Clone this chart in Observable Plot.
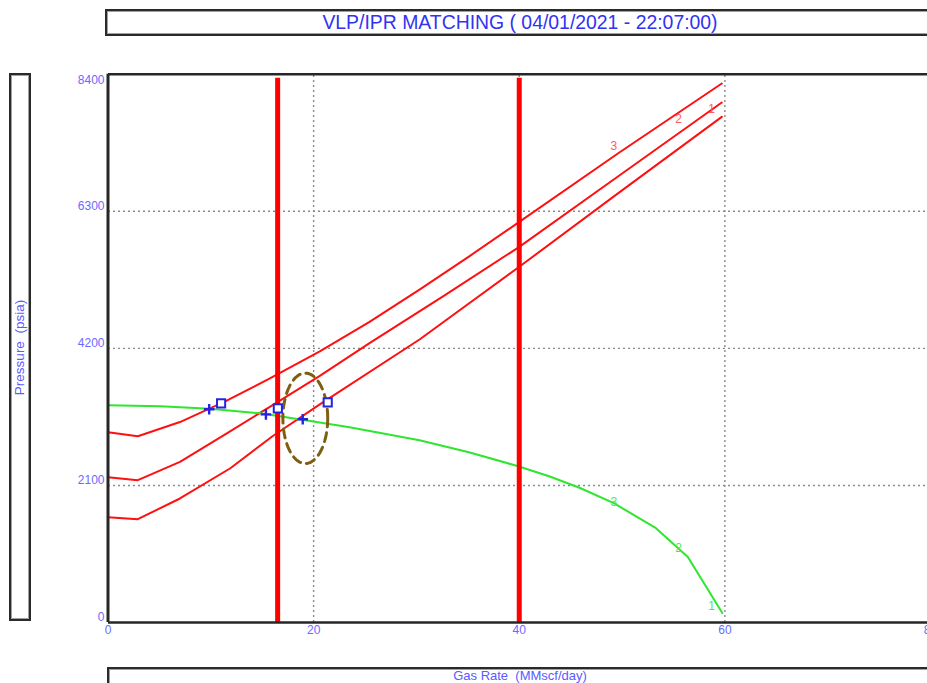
<!DOCTYPE html>
<html>
<head>
<meta charset="utf-8">
<script src="https://cdn.jsdelivr.net/npm/d3@7"></script>
<script src="https://cdn.jsdelivr.net/npm/@observablehq/plot@0.6"></script>
<style>
  body { margin: 0; background: #fff; }
  #chart {
    position: relative; width: 927px; height: 683px; overflow: hidden; background: #fff;
    font-family: "Liberation Sans", Arial, sans-serif;
  }
  #chart svg { position: absolute; left: 0; top: 0; }
  .box {
    position: absolute; box-sizing: border-box; background: #fff;
    border: 2px solid #2a2a2a; box-shadow: inset 0 0 0 1px #a0a0a0;
    display: flex; align-items: center; justify-content: center;
  }
  #title { left: 105px; top: 9px; width: 830px; height: 27px; color: #3232f2; font-size: 19.4px; }
  #ytitle { left: 9px; top: 73px; width: 22px; height: 548px; }
  #ytitle span { transform: rotate(-90deg); white-space: nowrap; color: #5a5aff; font-size: 13.5px; }
  #xtitle { left: 107px; top: 667px; width: 826px; height: 30px; align-items: flex-start; padding-top: 0; color: #5a5aff; font-size: 13px; line-height: 14px; }
</style>
</head>
<body>
<div id="chart">
  <div class="box" id="title">VLP/IPR MATCHING ( 04/01/2021 - 22:07:00)</div>
  <div class="box" id="ytitle"><span>Pressure&nbsp; (psia)</span></div>
  <div class="box" id="xtitle">Gas Rate&nbsp; (MMscf/day)</div>
</div>
<script>
// Axis ticks and grid positions
const xTicks = [0, 20, 40, 60, 80];
const yTicks = [0, 2100, 4200, 6300];
const yTopTick = [8400];
const xGrid = [20, 40, 60];
const yGrid = [2100, 4200, 6300];

// VLP curves (gas rate MMscf/day, pressure psia)
const vlp3Rate = [0, 2.9, 7.0, 11.4, 15.7, 20.6, 25.4, 30.3, 35.1, 39.9, 49.7, 59.7];
const vlp3Pres = [2914, 2853, 3071, 3388, 3735, 4153, 4601, 5101, 5606, 6126, 7197, 8257];
const vlp2Rate = [0, 2.9, 7.0, 11.4, 15.7, 20.6, 25.4, 32.7, 39.9, 49.7, 59.7];
const vlp2Pres = [2226, 2180, 2460, 2883, 3301, 3778, 4275, 5009, 5744, 6845, 7966];
const vlp1Rate = [0, 2.9, 7.0, 11.9, 16.0, 20.6, 30.3, 39.9, 49.7, 59.7];
const vlp1Pres = [1614, 1583, 1900, 2363, 2853, 3342, 4336, 5438, 6585, 7747];

// IPR curve
const iprRate = [0, 5.1, 9.9, 14.8, 18.9, 23.5, 30.3, 35.1, 39.9, 42.9, 45.8, 49.2, 53.3, 56.4, 59.75];
const iprPres = [3327, 3312, 3273, 3205, 3105, 2990, 2791, 2608, 2394, 2241, 2068, 1828, 1445, 1002, 145];

// VLP/IPR intersections and test points
const crossRate = [9.84, 15.36, 18.94];
const crossPres = [3266, 3189, 3113];
const testRate = [11.0, 16.52, 21.37];
const testPres = [3357, 3281, 3373];

// Rate limits
const limitRate = [16.5, 40];

// Curve labels
const curveNames = ["1", "2", "3"];
const vlpLabelRate = [58.7, 55.5, 49.2];
const vlpLabelPres = [7870, 7717, 7304];
const iprLabelRate = [58.7, 55.5, 49.2];
const iprLabelPres = [252, 1140, 1843];

// Highlight ellipse around the matched point
const ringCenter = {rate: 19.19, pres: 3128};
const ringRadius = {rate: 2.18, pres: 693};

const series = (xs, ys) => xs.map((x, i) => ({x, y: ys[i]}));
const ring = d3.range(0, 73).map(i => {
  const a = (i / 72) * 2 * Math.PI;
  return {x: ringCenter.rate + ringRadius.rate * Math.cos(a), y: ringCenter.pres + ringRadius.pres * Math.sin(a)};
});

// stroked plus sign
const plusSymbol = {
  draw(ctx, size) {
    const r = Math.sqrt(size / Math.PI);
    ctx.moveTo(-r, 0); ctx.lineTo(r, 0);
    ctx.moveTo(0, -r); ctx.lineTo(0, r);
  }
};

const tickColor = "#6a6aff";
const gridStyle = {stroke: "#8a8a8a", strokeWidth: 1.4, strokeDasharray: "2,3"};
const vlpStyle = {x: "x", y: "y", stroke: "#ff1010", strokeWidth: 2};

const plot = Plot.plot({
  width: 927,
  height: 683,
  marginLeft: 108,
  marginRight: 0,
  marginTop: 74,
  marginBottom: 61,
  x: {domain: [0, 80], range: [107.5, 930]},
  y: {domain: [0, 8400], range: [622, 73.7]},
  style: {fontFamily: "'Liberation Sans', Arial, sans-serif", fontSize: "12px", background: "transparent", overflow: "visible"},
  marks: [
    Plot.ruleY(yGrid, gridStyle),
    Plot.ruleX(xGrid, {...gridStyle, y1: 0, y2: 8400}),
    Plot.line(series(vlp3Rate, vlp3Pres), vlpStyle),
    Plot.line(series(vlp2Rate, vlp2Pres), vlpStyle),
    Plot.line(series(vlp1Rate, vlp1Pres), vlpStyle),
    Plot.line(series(iprRate, iprPres), {x: "x", y: "y", stroke: "#2ee62e", strokeWidth: 2}),
    Plot.ruleX(limitRate, {y1: 0, y2: 8400, stroke: "#ff0000", strokeWidth: 5, insetBottom: -4}),
    Plot.line(ring, {x: "x", y: "y", stroke: "#7d5f12", strokeWidth: 3, strokeDasharray: "9,6"}),
    Plot.dot(series(testRate, testPres), {x: "x", y: "y", symbol: "square", r: 4.6, stroke: "#2323e6", strokeWidth: 2, fill: "white"}),
    Plot.dot(series(crossRate, crossPres), {x: "x", y: "y", symbol: plusSymbol, r: 5.3, stroke: "#2323e6", strokeWidth: 2.4, fill: "none"}),
    Plot.text(vlpLabelRate, {x: d => d, y: (d, i) => vlpLabelPres[i], text: (d, i) => curveNames[i], fill: "#ff5a5a", fontSize: 12}),
    Plot.text(iprLabelRate, {x: d => d, y: (d, i) => iprLabelPres[i], text: (d, i) => curveNames[i], fill: "#52e852", fontSize: 12}),
    Plot.ruleY([0, 8400], {stroke: "#262626", strokeWidth: 2.5}),
    Plot.ruleX([0], {y1: 0, y2: 8400, stroke: "#262626", strokeWidth: 3}),
    Plot.axisY(yTicks, {label: null, tickSize: 0, tickPadding: 4, fill: tickColor, fontSize: 12, dy: -5, tickFormat: d => String(d)}),
    Plot.axisY(yTopTick, {label: null, tickSize: 0, tickPadding: 4, fill: tickColor, fontSize: 12, dy: 6, tickFormat: d => String(d)}),
    Plot.axisX(xTicks, {label: null, tickSize: 0, tickPadding: 3, fill: tickColor, fontSize: 12, tickFormat: d => String(d)})
  ]
});

document.getElementById("chart").prepend(plot);
</script>
</body>
</html>
